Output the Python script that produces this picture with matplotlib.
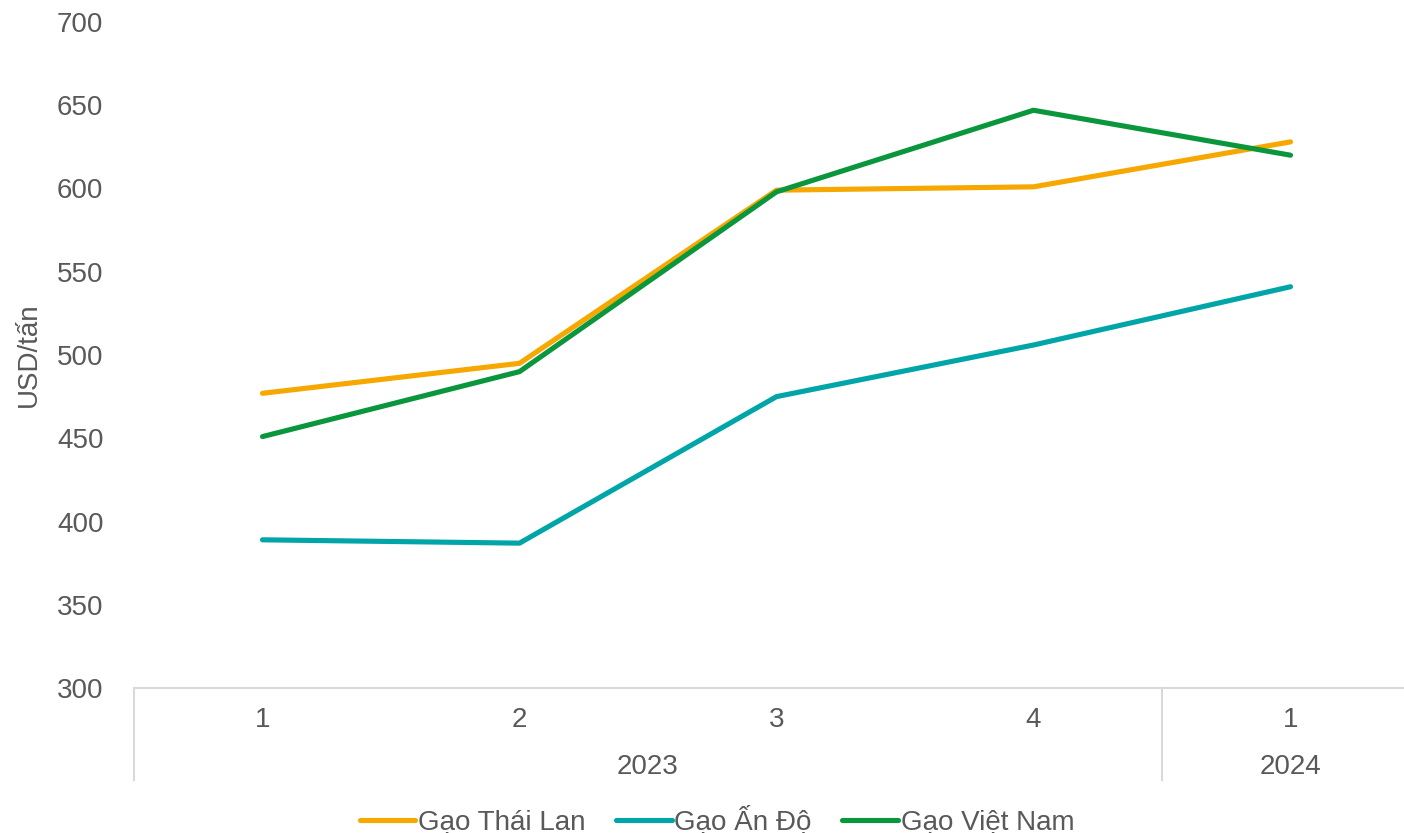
import matplotlib
matplotlib.use("Agg")
import matplotlib.pyplot as plt
import matplotlib.transforms as mtransforms

plt.rcParams['font.family'] = ['Liberation Sans', 'DejaVu Sans']

quarters = ["1", "2", "3", "4", "1"]
year_groups = [("2023", 0, 3), ("2024", 4, 4)]
thai = [477, 495, 599, 601, 628]
india = [389, 387, 475, 506, 541]
vietnam = [451, 490, 598, 647, 620]

series = [
    ("Gạo Thái Lan", thai, "#F6A800"),
    ("Gạo Ấn Độ", india, "#00A5A8"),
    ("Gạo Việt Nam", vietnam, "#0A963C"),
]

W, H = 1404, 833
fig = plt.figure(figsize=(W / 100, H / 100), dpi=100)
left, right_px = 134, 134 + 257 * 5
top, bottom = 22, 688
ax = fig.add_axes([left / W, (H - bottom) / H, (right_px - left) / W, (bottom - top) / H])

x = list(range(len(quarters)))
handles = []
for name, vals, col in series:
    h, = ax.plot(x, vals, color=col, lw=3.7, solid_capstyle='round', label=name)
    handles.append(h)

fs = 20
txt_color = "#595959"
grid_col = "#D9D9D9"
ax.set_xlim(-0.5, len(quarters) - 0.5)
ax.set_ylim(300, 700)
ax.set_yticks(range(300, 701, 50))
ax.set_xticks(x)
ax.set_xticklabels(quarters)
ax.tick_params(axis='both', length=0, labelsize=fs, colors=txt_color)
ax.tick_params(axis='y', pad=22)
ax.tick_params(axis='x', pad=14)
for s in ['top', 'right', 'left']:
    ax.spines[s].set_visible(False)
ax.spines['bottom'].set_color(grid_col)
ax.spines['bottom'].set_linewidth(1.5)

ax.set_ylabel("USD/tấn", fontsize=fs, color=txt_color)
ax.yaxis.set_label_coords(-(134 - 42) / (right_px - left), 0.5)

trans = mtransforms.blended_transform_factory(ax.transData, ax.transAxes)
sep_bottom = -(780 - bottom) / (bottom - top)
year_y = -(767 - bottom) / (bottom - top)
for yr, a, b in year_groups:
    ax.text((a + b) / 2, year_y, yr, transform=trans, ha='center', va='center',
            fontsize=fs, color=txt_color)
    ax.plot([a - 0.5, a - 0.5], [0, sep_bottom], transform=trans, color=grid_col,
            lw=1.5, clip_on=False)

fig.legend(handles=handles, loc='center', bbox_to_anchor=(717 / W, 1 - 821 / H),
           ncol=3, frameon=False, fontsize=fs, handlelength=2.0, handletextpad=0.1,
           columnspacing=1.1, labelcolor=txt_color)

fig.savefig("out.png", dpi=100, facecolor='white')
